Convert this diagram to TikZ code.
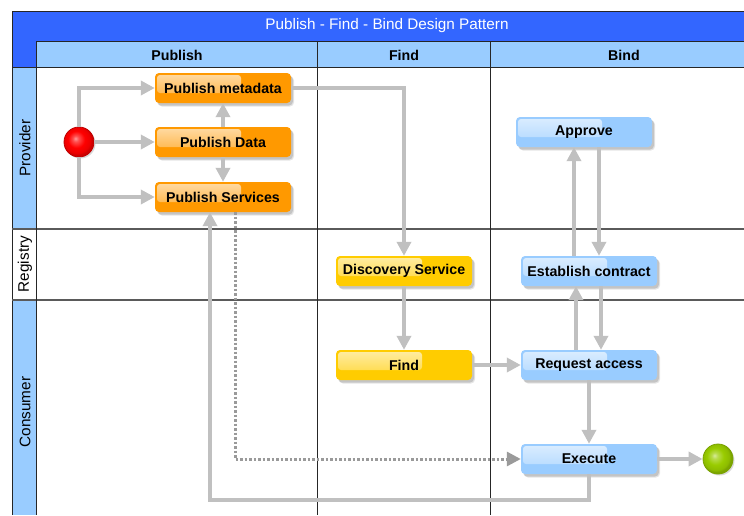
\documentclass[tikz,border=0pt]{standalone}
\usepackage{fontspec}
\setmainfont{Liberation Sans}
\usetikzlibrary{arrows.meta,shadows,calc}

\definecolor{titleblue}{HTML}{3366FF}
\definecolor{laneblue}{HTML}{99CCFF}
\definecolor{pubor}{HTML}{FF9900}
\definecolor{findyel}{HTML}{FFCC00}
\definecolor{bindblue}{HTML}{99CCFF}
\definecolor{conngray}{HTML}{C0C0C0}
\definecolor{dotgray}{HTML}{9A9A9A}
\definecolor{tipgray}{HTML}{9C9C9C}
\definecolor{gridline}{HTML}{5A5A5A}
\definecolor{endgreen}{HTML}{99CC00}

% glossy balls for start and end events
\pgfdeclareradialshading{redball}{\pgfpoint{-6bp}{6bp}}{%
  color(0bp)=(white!60!red); color(5bp)=(white!30!red); color(14bp)=(red);
  color(22bp)=(red!92!black); color(25bp)=(red!80!black); color(50bp)=(red!80!black)}
\pgfdeclareradialshading{greenball}{\pgfpoint{-6bp}{6bp}}{%
  color(0bp)=(white!60!endgreen); color(5bp)=(white!30!endgreen); color(14bp)=(endgreen);
  color(22bp)=(endgreen!92!black); color(25bp)=(endgreen!80!black); color(50bp)=(endgreen!80!black)}

\tikzset{
  softshadow/.style={
    drop shadow={shadow xshift=3pt, shadow yshift=-3.5pt, fill=black, opacity=0.10},
    drop shadow={shadow xshift=2pt, shadow yshift=-2.5pt, fill=black, opacity=0.14}},
  task/.style={rounded corners=4pt, minimum width=136pt, minimum height=30pt,
    inner sep=0pt, fill=#1, text=black,
    font=\fontsize{14.2}{16}\selectfont\bfseries, softshadow,
    path picture={\shade[rounded corners=3pt, top color=white!65!#1, bottom color=white!18!#1]
      ([xshift=2pt,yshift=-2pt]path picture bounding box.north west) rectangle ++(84,18);}},
  conn/.style={draw=conngray, line width=3.5pt, -{Triangle[length=14pt,width=14pt]}},
  dotconn/.style={draw=dotgray, line width=3pt, dash pattern=on 2.5pt off 2pt,
    -{Triangle[length=14pt,width=14pt,fill=tipgray]}},
  headtext/.style={font=\fontsize{14.2}{16}\selectfont\bfseries, text=black},
  lanetext/.style={font=\fontsize{15.3}{17}\selectfont, text=black, rotate=90},
  gridrule/.style={draw=gridline, line width=1.2pt},
  colrule/.style={draw=black!85, line width=1pt},
}

\begin{document}
\begin{tikzpicture}[x=1pt,y=-1pt]
\useasboundingbox (0,0) rectangle (744,515);
\fill[white] (0,0) rectangle (744,515);

% title bar and column headers
\fill[titleblue] (12,11) rectangle (744,41);
\fill[titleblue] (12,41) rectangle (36,67);
\fill[laneblue] (36,41) rectangle (744,67);
\node[font=\fontsize{15.3}{17}\selectfont, text=white] (title) at (387,26) {Publish - Find - Bind Design Pattern};
\node[headtext] (hpub) at (177,55) {Publish};
\node[headtext] (hfind) at (404,55) {Find};
\node[headtext] (hbind) at (624,55) {Bind};

% lane headers
\fill[laneblue] (12,67) rectangle (36,229);
\fill[laneblue] (12,300) rectangle (36,515);
\node[lanetext] (lprov) at (25,148) {Provider};
\node[lanetext] (lreg) at (25,264) {Registry};
\node[lanetext] (lcons) at (25,412) {Consumer};

% grid
\draw[colrule] (12,11) -- (744,11);
\draw[colrule] (12,11) -- (12,515);
\draw[colrule] (36,41) -- (744,41);
\draw[colrule] (12,67) -- (744,67);
\draw[gridrule] (12,229) -- (744,229);
\draw[gridrule] (12,300) -- (744,300);
\draw[colrule] (36,41) -- (36,515);
\draw[colrule] (317,41) -- (317,515);
\draw[colrule] (490,41) -- (490,515);

% activities
\node[task=pubor] (pmeta) at (223,88) {Publish metadata};
\node[task=pubor] (pdata) at (223,142) {Publish Data};
\node[task=pubor] (pserv) at (223,197) {Publish Services};
\node[task=findyel] (disc) at (404,271) {Discovery Service};
\node[task=findyel] (find) at (404,365) {Find};
\node[task=bindblue] (appr) at (584,132) {Approve};
\node[task=bindblue] (estab) at (589,271) {Establish contract};
\node[task=bindblue] (req) at (589,365) {Request access};
\node[task=bindblue] (exec) at (589,459) {Execute};

% events
\node[circle, minimum size=30pt, inner sep=0pt, shading=redball, draw=red!75!black, line width=0.8pt,
  drop shadow={shadow xshift=1.5pt, shadow yshift=-1.5pt, fill=black, opacity=0.15}] (start) at (79,142) {};
\node[circle, minimum size=30pt, inner sep=0pt, shading=greenball, draw=endgreen!80!black, line width=0.8pt,
  drop shadow={shadow xshift=1.5pt, shadow yshift=-1.5pt, fill=black, opacity=0.15}] (stop) at (718,459) {};

% flows
\draw[conn] (start.north) |- (pmeta.west);
\draw[conn] (start.east) -- (pdata.west);
\draw[conn] (start.south) |- (pserv.west);
\draw[conn] (pdata.north) -- (pmeta.south);
\draw[conn] (pdata.south) -- (pserv.north);
\draw[conn] (pmeta.east) -| (disc.north);
\draw[conn] (disc.south) -- (find.north);
\draw[conn] (find.east) -- (req.west);
\draw[conn] ([xshift=-15pt]estab.north) -- ([xshift=-15pt]estab.north |- appr.south);
\draw[conn] ([xshift=10pt]estab.north |- appr.south) -- ([xshift=10pt]estab.north);
\draw[conn] ([xshift=-13pt]req.north) -- ([xshift=-13pt]req.north |- estab.south);
\draw[conn] ([xshift=12pt]req.north |- estab.south) -- ([xshift=12pt]req.north);
\draw[conn] (req.south) -- (exec.north);
\draw[conn] (exec.east) -- (stop.west);
\draw[conn] (exec.south) -- ++(0,26) -| ([xshift=-13pt]pserv.south);
\draw[dotconn] ([xshift=12pt]pserv.south) |- (exec.west);
\end{tikzpicture}
\end{document}
